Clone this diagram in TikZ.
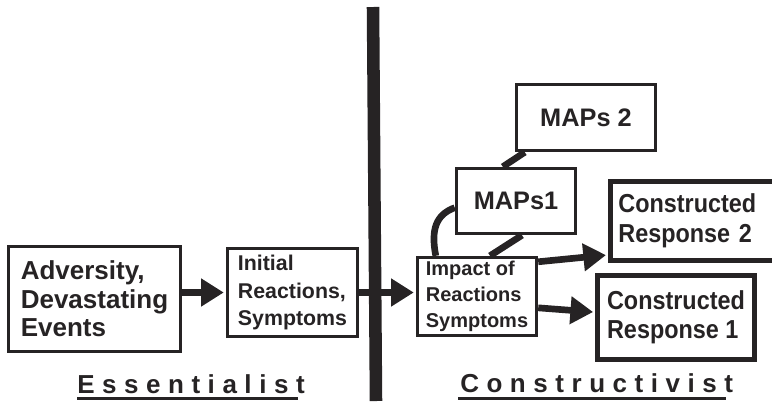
\documentclass[tikz,border=0pt]{standalone}
\usepackage{fontspec}
\usepackage{xcolor}
\setmainfont{Liberation Sans}
\newfontfamily\crfont{Liberation Sans}[FakeStretch=0.9]
\newfontfamily\labfont{Liberation Sans}[LetterSpace=29]
\usetikzlibrary{positioning,arrows.meta}
\definecolor{ink}{RGB}{38,35,36}

\begin{document}
\begin{tikzpicture}
[
x=0.75pt, y=-0.75pt,
box-a/.style={draw=ink, line width=2.6pt, text=ink, align=left, inner sep=0pt},
box-b/.style={draw=ink, line width=3.6pt, text=ink, align=left, inner sep=0pt,
              font=\crfont\bfseries\fontsize{19.5}{21.75}\selectfont},
text-a/.style={text=ink, inner sep=0pt, font=\labfont\bfseries\fontsize{19.5}{22}\selectfont},
link-a/.style={draw=ink, line width=5pt, shorten >=1.5pt, -{Triangle[length=17pt,width=20pt]}},
link-b/.style={draw=ink, line width=5pt}
]
\useasboundingbox (0,0) rectangle (772,401);
\clip (0,0) rectangle (772,401);
% dividing bar
\draw [ink, line width=9.4pt] (373,7) -- (376,401);
% boxes
\node (adv-box)    [box-a, minimum width=129pt,   minimum height=78.75pt,
                    font=\bfseries\fontsize{19.5}{21.25}\selectfont]  at (94.5,299)  {Adversity,\\Devastating\\Events};
\node (init-box)   [box-a, minimum width=97.5pt,  minimum height=66pt,
                    font=\bfseries\fontsize{16}{20.5}\selectfont]     at (292.5,292.5) {Initial\\Reactions,\\Symptoms};
\node (impact-box) [box-a, minimum width=89.25pt, minimum height=58.5pt,
                    font=\bfseries\fontsize{15}{19.5}\selectfont]     at (477,296.5) {Impact of\\Reactions\\Symptoms};
\node (maps1-box)  [box-a, minimum width=89.25pt, minimum height=48.75pt,
                    font=\bfseries\fontsize{19}{22}\selectfont]       at (516,201)   {MAPs1};
\node (maps2-box)  [box-a, minimum width=104.25pt, minimum height=49.5pt,
                    font=\bfseries\fontsize{19}{22}\selectfont]       at (586,117.5) {MAPs 2};
\node (cr1-box)    [box-b, minimum width=117.75pt, minimum height=63pt] at (676,317.5) {Constructed\\Response 1};
\node (cr2-box)    [box-b, anchor=west, inner xsep=6pt, text width=123pt,
                    minimum height=59.25pt,
                    font=\crfont\bfseries\fontsize{19.5}{22.5}\selectfont] at (608,221)   {Constructed\\Response 2};
% labels
\node (ess-label)  [text-a, anchor=base west] at (77,393)  {Essentialist};
\node (con-label)  [text-a, anchor=base west] at (460,392) {Constructivist};
\draw [ink, line width=2.25pt] ([yshift=-4pt]ess-label.base west) -- ([xshift=-5.6pt, yshift=-4pt]ess-label.base east);
\draw [ink, line width=2.25pt] ([xshift=-1.5pt, yshift=-4.5pt]con-label.base west) -- ([xshift=-5.6pt, yshift=-4.5pt]con-label.base east);
% arrows
\draw [link-a] (adv-box.east |- init-box.west) -- (init-box.west);
\draw [link-a] (init-box.east) -- (init-box.east -| impact-box.west);
\draw [link-a] ([yshift=-4.5pt]impact-box.north east) -- ([yshift=6pt]cr2-box.south west);
\draw [link-a] ([yshift=-8.5pt]impact-box.east) -- ([yshift=4pt]cr1-box.west);
% links between MAPs
\draw [link-b] ([xshift=7.5pt]maps2-box.south west) -- ([xshift=36pt]maps1-box.north west);
\draw [link-b] ([xshift=9.75pt]impact-box.north) -- ([xshift=4.5pt]maps1-box.south);
\draw [link-b] ([xshift=15pt]impact-box.north west) .. controls +(-5,-26) and +(-19,7) .. ([yshift=-5pt]maps1-box.west);
\end{tikzpicture}
\end{document}
